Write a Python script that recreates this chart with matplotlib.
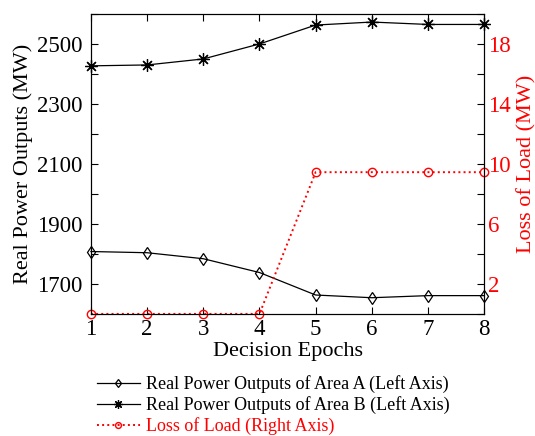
import matplotlib.pyplot as plt
import numpy as np

# -- DADOS --
epochs = [1, 2, 3, 4, 5, 6, 7, 8]
area_a = [1808, 1804, 1784, 1738, 1663, 1654, 1661, 1661]
area_b = [2427, 2430, 2450, 2500, 2563, 2573, 2565, 2565]
loss_load = [0, 0, 0, 0, 9.45, 9.45, 9.45, 9.45]

plt.rcParams['font.family'] = ['Liberation Serif', 'DejaVu Serif']

fig = plt.figure(figsize=(5.35, 4.36), dpi=100)
ax = fig.add_axes([0.170, 0.280, 0.735, 0.688])
ax2 = ax.twinx()

star = (8, 2, 0)
la, = ax.plot(epochs, area_a, color='k', lw=0.9, marker='d', mfc='none', mec='k', ms=6.5, mew=0.9, clip_on=False)
lb, = ax.plot(epochs, area_b, color='k', lw=0.9, marker=star, ms=9, mec='k', mew=0.9, clip_on=False)
ll, = ax2.plot(epochs, loss_load, color='red', lw=1.4, ls=':', marker='o', mfc='none', mec='red', ms=6, mew=1.0, clip_on=False)

ax.set_xlim(1, 8)
ax.set_ylim(1600, 2600)
ax.set_yticks(np.arange(1600, 2601, 100))
ax.set_yticklabels(['' if v % 200 == 0 else str(v) for v in range(1600, 2601, 100)])
ax.set_xticks(epochs)
ax2.set_ylim(0, 20)
ax2.set_yticks(np.arange(0, 21, 2))
ax2.set_yticklabels(['' if v % 4 == 0 else str(v) for v in range(0, 21, 2)])

ax.tick_params(axis='both', direction='in', labelsize=16.5, length=5, width=0.8, top=True)
ax.tick_params(axis='x', pad=4)
ax.tick_params(axis='y', pad=6)
ax2.tick_params(axis='y', direction='in', labelsize=16.5, length=5, width=0.8, colors='red', pad=3)
ax2.tick_params(axis='y', color='k')
for a in (ax, ax2):
    for s in a.spines.values():
        s.set_linewidth(0.8)

ax.set_xlabel('Decision Epochs', fontsize=16, labelpad=1)
ax.set_ylabel('Real Power Outputs (MW)', fontsize=16, labelpad=3)
ax2.set_ylabel('Loss of Load (MW)', fontsize=16, color='red', labelpad=4)

leg = fig.legend([la, lb, ll],
                 ['Real Power Outputs of Area A (Left Axis)',
                  'Real Power Outputs of Area B (Left Axis)',
                  'Loss of Load (Right Axis)'],
                 loc='lower left', bbox_to_anchor=(0.150, -0.035), frameon=False,
                 fontsize=13, handlelength=2.4, handletextpad=0.35, labelspacing=0.17,
                 markerscale=0.7)
leg.get_texts()[2].set_color('red')

plt.savefig('out.png', dpi=100)
